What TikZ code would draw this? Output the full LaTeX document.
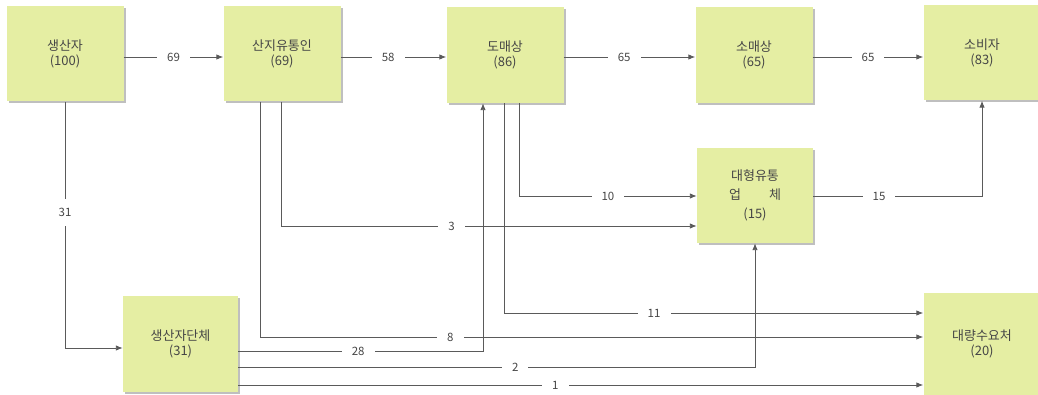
\documentclass[tikz,border=0pt]{standalone}
\usepackage{fontspec}
\setmainfont{Noto Sans CJK KR}
\usetikzlibrary{arrows.meta,shadows,calc}
\definecolor{boxfill}{RGB}{229,238,163}
\definecolor{linegray}{RGB}{90,90,90}
\definecolor{txtgray}{RGB}{70,70,70}
\begin{document}
\begin{tikzpicture}[x=1pt,y=-1pt,
  box/.style={rectangle,fill=boxfill,draw=none,minimum width=117pt,minimum height=95pt,
    align=center,font=\fontsize{13}{15.5}\selectfont,text=txtgray,
    drop shadow={shadow xshift=2pt,shadow yshift=-2pt,fill=black,opacity=0.25}},
  arr/.style={draw=linegray,line width=0.9pt,-{Latex[length=7pt,width=5.5pt]}},
  lbl/.style={fill=white,inner xsep=10pt,inner ysep=3pt,font=\fontsize{11.5}{13}\selectfont,text=txtgray}]
\useasboundingbox (0,0) rectangle (1038,395);
% boxes
\node[box] (P) at (65,54) {생산자\\(100)};
\node[box] (S) at (282,54) {산지유통인\\(69)};
\node[box,minimum height=96pt] (W) at (505,55) {도매상\\(86)};
\node[box,minimum height=96pt] (R) at (754,55) {소매상\\(65)};
\node[box] (C) at (982,53) {소비자\\(83)};
\node[box,minimum width=116pt,font=\fontsize{13}{19}\selectfont] (L) at (755,195.5) {대형유통\\\makebox[4em][s]{업\hfill 체}\\(15)};
\node[box,minimum width=115pt,minimum height=96pt] (G) at (180.5,344) {생산자단체\\(31)};
\node[box,minimum height=102pt] (B) at (982,344) {대량수요처\\(20)};
% bend coordinates
\coordinate (k31) at (65,348);
\coordinate (k3) at (281,226);
\coordinate (k8) at (260,337);
\coordinate (k28) at (483,351);
\coordinate (k2) at (755,367);
\coordinate (k1) at (0,385);
\coordinate (k11) at (504,313);
\coordinate (k10) at (519,196);
\coordinate (k15) at (982,196);
% top row
\draw[arr] ([yshift=-3pt]P.east) -- node[lbl]{69} ([yshift=-3pt]S.west);
\draw[arr] ([yshift=-3pt]S.east) -- node[lbl,pos=0.45]{58} ([yshift=-2pt]W.west);
\draw[arr] ([yshift=-2pt]W.east) -- node[lbl,pos=0.46]{65} ([yshift=-2pt]R.west);
\draw[arr] ([yshift=-2pt]R.east) -- node[lbl]{65} ([yshift=-4pt]C.west);
% producer to producer group
\draw[arr] (P.south) -- node[lbl,pos=0.45,inner xsep=3pt,inner ysep=9pt]{31} (k31) -- ([yshift=-4pt]G.west);
% collectors
\draw[arr] (S.south -| k3) -- (k3) -- node[lbl,pos=0.41]{3} (L.west |- k3);
\draw[arr] (S.south -| k8) -- (k8) -- node[lbl,pos=0.287]{8} (B.west |- k8);
% producer group
\draw[arr] (G.east |- k28) -- node[lbl,pos=0.49]{28} (k28) -- (W.south -| k28);
\draw[arr] (G.east |- k2) -- node[lbl,pos=0.536]{2} (k2) -- (L.south -| k2);
\draw[arr] (G.east |- k1) -- node[lbl,pos=0.463]{1} (B.west |- k1);
% wholesaler
\draw[arr] (W.south -| k11) -- (k11) -- node[lbl,pos=0.358]{11} (B.west |- k11);
\draw[arr] (W.south -| k10) -- (k10) -- node[lbl,pos=0.5]{10} (L.west |- k10);
% large retailer to consumer
\draw[arr] (L.east |- k15) -- node[lbl,pos=0.39]{15} (k15) -- (C.south -| k15);
\end{tikzpicture}
\end{document}
